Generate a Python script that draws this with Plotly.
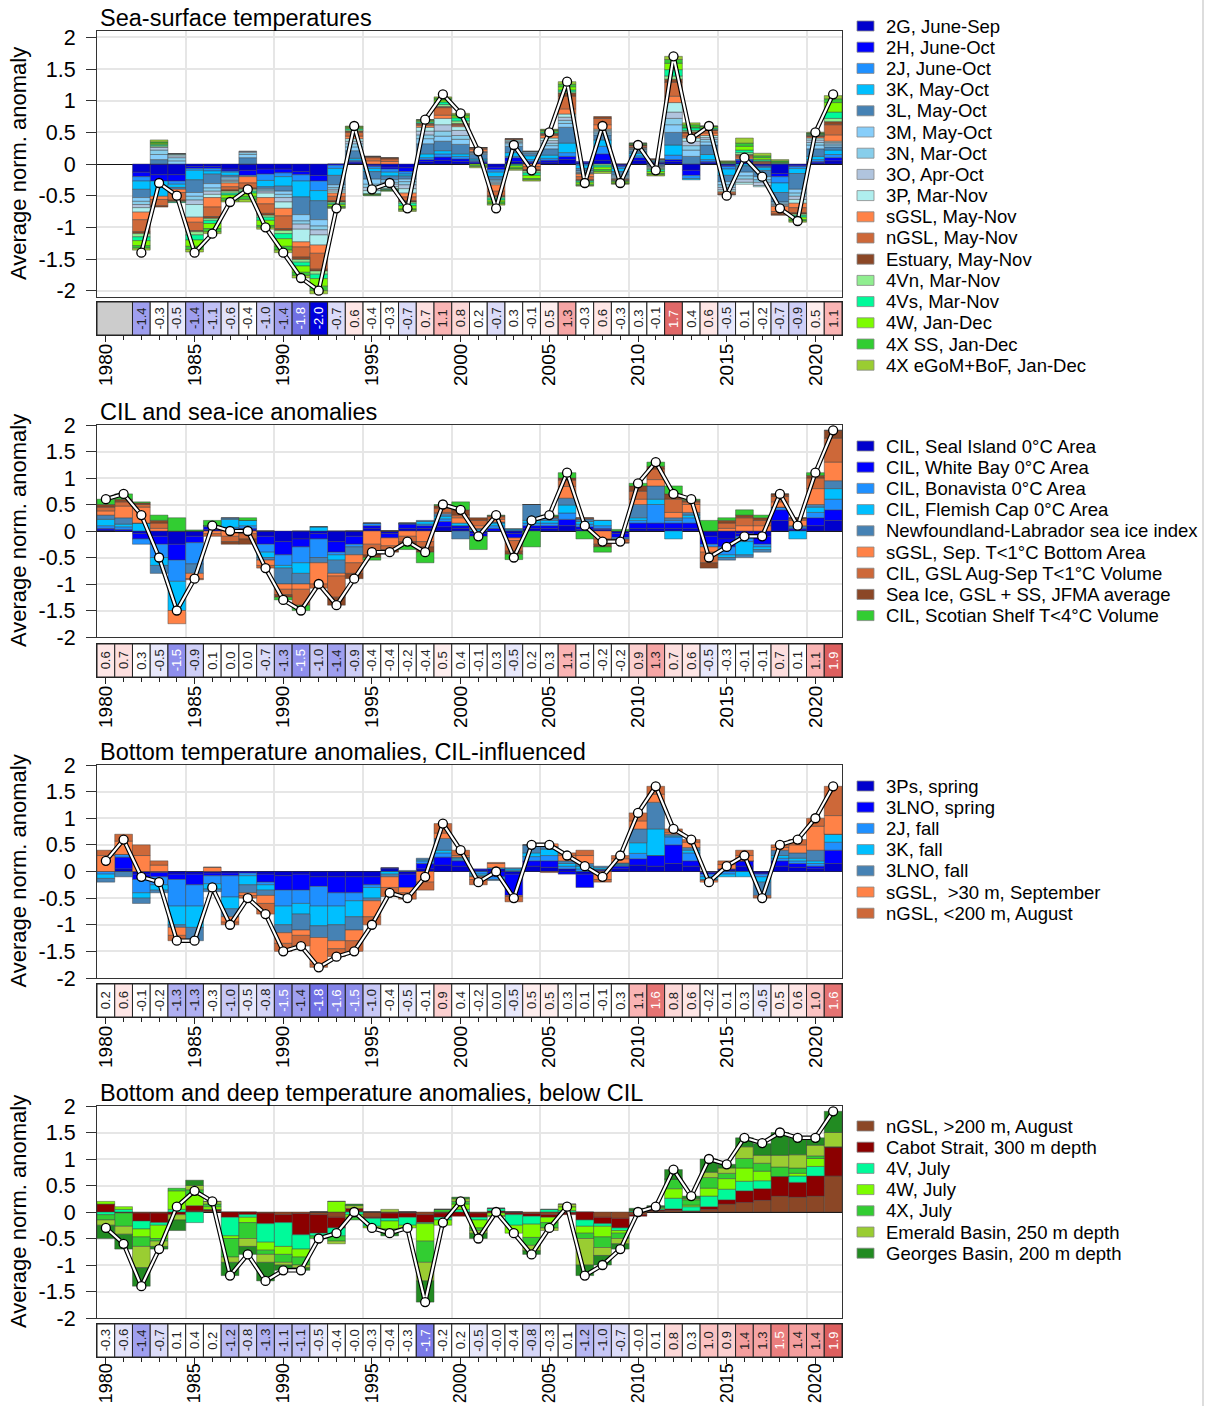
import plotly.graph_objects as go

W, H = 1208, 1406
FONT = "Liberation Sans, Arial, Helvetica, sans-serif"

years = list(range(1980, 2022))
sst_years = list(range(1982, 2022))

# ---------------- Sea-surface temperatures (share of the average, 1982-2021) ----------------
sst_mean = [-1.4, -0.3, -0.5, -1.4, -1.1, -0.6, -0.4, -1.0, -1.4, -1.8,
            -2.0, -0.7, 0.6, -0.4, -0.3, -0.7, 0.7, 1.1, 0.8, 0.2,
            -0.7, 0.3, -0.1, 0.5, 1.3, -0.3, 0.6, -0.3, 0.3, -0.1,
            1.7, 0.4, 0.6, -0.5, 0.1, -0.2, -0.7, -0.9, 0.5, 1.1]
sst_2G = [-.13, -.17, -.17, -.04, -.04, -.08, -.10, -.08, -.08, -.12, -.18, 0, .02, -.02, -.05, -.06, .04, .06, .04, .02,
          -.05, .04, .02, .03, .07, .02, .06, -.02, .06, .02, .04, -.10, .02, -.02, .03, -.02, -.15, -.02, .02, .05]
sst_2H = [-.07, -.10, -.10, -.03, -.03, -.03, -.08, -.08, -.06, -.05, -.09, -.02, .02, -.02, -.03, -.06, .03, .05, .04, .02,
          -.04, .06, .02, .03, .05, .02, .10, -.02, .04, .01, .03, -.08, .02, -.02, .03, -.02, -.05, -.02, .02, .05]
sst_2J = [-.07, 0, -.05, -.03, -.04, -.02, -.02, -.10, -.06, -.10, -.15, -.05, .02, -.03, -.05, -.04, .03, .05, .04, .02,
          -.04, .02, .03, .03, .06, -.02, .12, -.03, .03, .01, .07, -.05, .03, -.04, .02, -.02, -.10, -.03, .03, .05]
sst_3K = [-.13, -.24, -.05, -.15, -.05, -.05, 0, -.10, -.15, -.25, -.16, -.11, .03, -.05, -.06, -.03, .06, .05, .04, .02,
          -.07, .06, .06, .05, .15, -.05, .10, -.05, .04, .02, .16, -.02, .08, -.10, -.03, -.04, -.15, -.08, .05, .07]
sst_3L = [-.13, .07, -.03, -.20, -.15, -.03, .10, -.03, -.08, -.28, -.30, -.15, .12, -.12, -.06, -.05, .16, .15, .15, .07,
          -.05, .10, .04, .10, .25, -.04, .08, -.05, .04, -.02, .20, .12, .15, -.10, -.10, -.10, -.15, -.25, .12, .05]
sst_3M = [-.06, .08, .05, -.06, -.07, -.03, .05, -.02, -.05, -.10, -.10, -.04, .06, -.08, -.04, -.04, .08, .08, .08, .02,
          -.02, .04, .02, .05, .06, -.02, .03, -.02, .02, -.01, .12, .10, .05, -.05, -.06, -.05, -.02, -.06, .06, .03]
sst_3N = [-.05, .07, .05, -.06, -.05, -.02, .03, -.02, -.05, -.05, -.06, -.03, .05, -.05, -.03, -.05, .06, .08, .06, .01,
          -.02, .02, .01, .04, .05, -.01, .02, -.02, .01, -.01, .10, .07, .04, -.04, -.05, -.04, -.02, -.05, .04, .02]
sst_3O = [-.05, .05, .03, -.07, -.05, -.02, .02, -.03, -.07, -.08, -.08, -.03, .04, -.05, -.04, -.06, .06, .10, .08, .01,
          -.02, .02, 0, .04, .05, -.01, .02, -.02, .01, -.02, .10, .07, .03, -.04, -.05, -.05, -.02, -.05, .04, .02]
sst_3P = [-.07, 0, .03, -.20, -.05, -.02, 0, -.07, -.10, -.20, -.16, -.03, .04, -.05, -.03, -.07, .06, .10, .06, .01,
          -.02, .02, 0, .04, .05, -.01, .02, -.01, .01, -.01, .15, .05, .03, -.03, -.03, -.02, -.01, -.06, .03, .02]
sst_sGSL = [-.12, -.05, -.05, -.08, -.15, -.06, -.10, -.10, -.12, -.08, -.13, -.05, .04, .05, .04, -.06, .03, .05, .02, .03,
            -.10, .01, -.04, .04, .08, -.04, .07, -.01, .01, .01, .10, .03, .04, -.02, .03, .01, -.08, -.07, .02, .10]
sst_nGSL = [-.19, -.10, -.12, -.13, -.15, -.05, -.08, -.15, -.20, -.16, -.25, -.07, .06, .05, .04, -.06, .02, .12, .02, .02,
            -.07, .01, -.05, .02, .20, -.05, .10, -.01, .03, .01, .22, .05, .04, -.02, .03, .02, -.04, -.08, .01, .16]
sst_estuary = [-.03, -.02, -.02, -.02, -.03, -.02, -.02, -.03, -.03, -.04, -.03, -.02, .02, .02, .02, -.02, .01, .02, .01, .01,
               -.02, 0, -.02, .01, .05, -.01, .03, 0, 0, 0, .05, .02, .01, -.01, .01, .01, -.02, -.02, .01, .05]
sst_4Vn = [-.05, .02, -.01, -.05, -.03, -.03, -.03, -.03, -.05, -.04, -.05, -.02, .02, 0, -.01, -.02, .01, .03, .04, 0,
           -.02, -.01, -.03, .01, .02, -.01, -.02, -.01, 0, -.02, .05, .02, .01, .01, .03, .01, .01, -.02, .01, .05]
sst_4Vs = [-.06, .02, -.01, -.08, -.05, -.03, -.03, -.05, -.08, -.06, -.07, -.02, .02, -.01, -.01, -.04, .02, .04, .05, 0,
           -.03, -.02, -.04, .02, .03, -.02, -.03, -.01, .01, -.03, .10, .04, .02, .01, .04, .02, .01, -.03, .01, .10]
sst_4W = [-.08, .02, 0, -.10, -.08, -.05, -.05, -.08, -.12, -.10, -.12, -.03, .02, -.01, -.01, -.05, .02, .03, .03, -.02,
          -.03, -.03, -.05, .02, .05, -.03, -.04, -.02, .01, -.03, .10, .01, .02, .01, .06, .03, .01, -.04, .01, .15]
sst_4XSS = [-.04, .02, 0, -.05, -.05, -.04, -.05, -.03, -.06, -.05, -.07, -.02, .01, -.01, -.01, -.02, .01, .03, .02, -.02,
            -.03, -.02, -.02, .01, .04, -.02, -.03, -.01, .01, -.02, .06, .04, .01, .01, .05, .03, .02, -.02, .01, .06]
sst_4XGoM = [-.03, .03, 0, -.04, -.03, -.02, -.04, -.03, -.04, -.04, -.05, -.01, .01, 0, 0, -.02, 0, .02, .02, -.02,
             -.02, -.02, -.02, .01, .04, -.01, -.03, -.01, 0, -.02, .05, .03, 0, .01, .08, .04, .02, -.02, .01, .05]

# ---------------- CIL and sea-ice (1980-2021) ----------------
cil_mean = [0.6, 0.7, 0.3, -0.5, -1.5, -0.9, 0.1, 0.0, 0.0, -0.7,
            -1.3, -1.5, -1.0, -1.4, -0.9, -0.4, -0.4, -0.2, -0.4, 0.5,
            0.4, -0.1, 0.3, -0.5, 0.2, 0.3, 1.1, 0.1, -0.2, -0.2,
            0.9, 1.3, 0.7, 0.6, -0.5, -0.3, -0.1, -0.1, 0.7, 0.1,
            1.1, 1.9]
cil_seal = [.02, 0, -.05, -.10, -.25, -.10, .03, 0, .02, -.10, -.20, -.15, -.05, -.20, -.10, .05, -.05, .05, .05, .08,
            .05, -.05, 0, -.05, .05, .05, .10, .03, .03, -.05, .05, .05, .05, .05, -.10, -.15, -.05, -.10, .20, .02, .10, .20]
cil_white = [.03, .03, -.10, -.15, -.30, -.12, .05, .02, .03, -.15, -.25, -.15, -.10, -.20, -.15, .05, -.08, .08, .05, .10,
             .05, -.05, .05, -.08, .05, .05, .12, .05, .02, -.07, .10, .10, .10, .10, -.15, -.15, -.05, -.15, .20, .03, .15, .20]
cil_bona = [.05, .05, -.10, -.25, -.40, -.40, .02, .05, .05, -.15, -.20, -.30, -.35, -.05, -.05, .05, 0, .02, .03, .05,
            0, 0, .05, .02, .05, .05, .12, .05, .05, -.03, .05, .35, .05, .10, -.05, -.15, -.10, -.05, .05, .03, .10, .20]
cil_flem = [.12, .05, .15, -.15, -.55, 0, 0, .15, .10, -.10, -.05, -.20, .08, -.10, 0, 0, 0, 0, .05, .05,
            .05, .03, .05, .02, .05, .05, .15, .05, .10, 0, .05, .10, -.15, .05, 0, -.05, -.25, -.05, 0, -.15, .10, .20]
nl_ice = [.08, .12, 0, -.15, 0, -.18, 0, .03, 0, -.05, -.30, -.20, -.10, -.25, -.15, 0, 0, 0, .02, .05,
          -.15, .02, .02, 0, .30, .05, .13, .05, 0, 0, .25, .25, .05, .05, 0, -.05, -.05, -.05, 0, .02, .05, .15]
sgsl_area = [.08, .22, .30, .05, -.25, -.10, -.05, -.10, -.05, -.10, -.10, -.10, -.40, -.05, -.15, -.25, -.15, -.10, -.20, .02,
             .10, .05, .05, -.05, 0, 0, .22, 0, -.15, -.02, .10, .12, .10, .15, -.10, .05, .10, .10, .10, .10, .30, .35]
gsl_vol = [.07, .08, .05, .10, 0, -.02, -.05, -.10, -.10, -.05, -.10, -.30, -.08, -.40, -.20, -.20, -.07, -.10, -.10, .08,
           .05, .10, .05, -.20, 0, .02, .12, .02, -.10, -.05, .15, .20, .25, .05, -.20, .10, .15, .10, .10, .03, .20, .45]
gsl_ice = [.05, .05, .03, .05, 0, 0, 0, -.05, -.10, 0, -.05, 0, 0, -.15, -.10, -.05, -.05, -.05, -.10, .05,
           .10, .05, .02, -.06, 0, .01, .04, 0, -.05, -.01, .10, .05, .10, .03, -.10, .05, .05, .05, .05, .02, .05, .15]
ss_vol = [.10, .10, .02, .10, .25, .02, .10, 0, .05, 0, -.05, -.10, 0, 0, 0, -.05, 0, -.10, -.20, .02,
          .15, -.25, .01, -.10, -.30, .02, .10, -.15, -.10, .03, .05, .08, .15, .02, .20, .05, .10, .05, 0, 0, .05, 0]

# ---------------- Bottom temperature, CIL-influenced (1980-2021) ----------------
bot_mean = [0.2, 0.6, -0.1, -0.2, -1.3, -1.3, -0.3, -1.0, -0.5, -0.8,
            -1.5, -1.4, -1.8, -1.6, -1.5, -1.0, -0.4, -0.5, -0.1, 0.9,
            0.4, -0.2, 0.0, -0.5, 0.5, 0.5, 0.3, 0.1, -0.1, 0.3,
            1.1, 1.6, 0.8, 0.6, -0.2, 0.1, 0.3, -0.5, 0.5, 0.6,
            1.0, 1.6]
bot_3Ps = [0, .05, -.05, -.02, -.05, -.05, -.03, -.03, 0, -.05, -.08, -.05, -.10, -.10, -.10, -.10, .05, -.05, .05, .12,
           .10, .03, .05, -.05, .10, .08, .05, -.05, .02, .05, .12, .10, .15, .10, -.02, .03, .10, -.03, .10, .08, .05, .15]
bot_3LNO_sp = [0, .22, -.10, -.08, -.10, -.20, -.05, -.05, -.03, -.15, -.27, -.30, -.18, -.30, -.30, -.15, .02, -.25, .10, .15,
               .10, .02, -.10, -.40, .10, .12, -.05, -.25, .02, .05, .12, .20, .35, .10, -.03, .02, .10, -.02, .10, .07, .05, .25]
bot_2J = [-.05, .05, -.25, -.15, -.50, -.40, -.15, -.40, -.05, -.05, -.30, -.25, -.37, -.25, -.15, -.05, 0, 0, .05, .08,
          .02, -.05, -.05, .02, .08, .10, .05, .05, 0, .02, .10, 0, .15, .15, -.05, -.05, 0, -.05, .05, .05, .05, .15]
bot_3K = [-.08, 0, -.10, -.10, -.35, -.40, -.10, -.22, -.17, -.10, -.35, -.20, -.37, -.35, -.30, -.20, -.05, 0, .02, .05,
          .03, -.03, .02, .03, .07, .12, .05, .05, .03, .02, .20, .50, .02, .05, -.05, -.05, -.10, -.10, .05, .05, .05, .15]
bot_3LNO_fa = [-.07, -.10, -.10, -.05, -.05, -.25, -.05, -.15, -.15, -.10, -.15, -.30, -.22, -.30, -.25, -.05, -.05, .02, .03, .22,
               .02, -.02, -.02, .02, .15, .05, .05, .05, .03, .02, .26, .50, .03, .05, -.02, 0, 0, -.25, .10, .10, .20, 0]
bot_sGSL = [.30, .25, .30, .12, -.15, 0, .08, -.10, -.05, -.15, -.20, -.10, -.50, -.15, -.20, -.30, -.20, -.10, -.20, .10,
            .03, -.05, .08, -.02, 0, .05, .10, .15, -.15, .08, .15, .15, .03, .10, -.03, .08, .10, -.03, .05, .15, .45, .35]
bot_nGSL = [.10, .13, .20, .08, -.10, 0, 0, -.05, -.05, -.20, -.15, -.20, -.06, -.15, -.20, -.15, -.17, -.12, -.15, .18,
            .10, -.10, .02, -.10, 0, -.02, .05, .10, -.05, .06, .15, .15, .07, .05, 0, .07, .10, -.02, .05, .10, .15, .55]

# ---------------- Bottom and deep temperature, below CIL (1980-2021) ----------------
deep_mean = [-0.3, -0.6, -1.4, -0.7, 0.1, 0.4, 0.2, -1.2, -0.8, -1.3,
             -1.1, -1.1, -0.5, -0.4, -0.0, -0.3, -0.4, -0.3, -1.7, -0.2,
             0.2, -0.5, -0.0, -0.4, -0.8, -0.3, 0.1, -1.2, -1.0, -0.7,
             -0.0, 0.1, 0.8, 0.3, 1.0, 0.9, 1.4, 1.3, 1.5, 1.4,
             1.4, 1.9]
deep_nGSL = [0, -.02, -.02, -.02, 0, .02, .02, 0, 0, -.02, -.05, -.03, -.05, -.10, .02, -.10, -.02, -.02, -.05, -.02,
             0, -.02, -.02, -.02, -.03, -.05, -.02, 0, -.10, -.12, -.05, .02, .03, .02, .05, .15, .18, .22, .30, .28, .30, .68]
deep_cabot = [.15, 0, -.15, -.18, -.05, .10, .03, -.10, -.05, -.20, -.15, -.40, -.35, -.20, .05, -.02, -.10, -.08, -.15, -.08,
              -.08, -.08, .02, -.03, -.05, -.05, -.03, -.15, -.12, -.18, -.03, .02, .03, 0, .05, .08, .22, .22, .37, .28, .38, .55]
deep_4V = [-.05, .05, -.15, -.05, .05, -.20, 0, -.35, -.05, -.35, -.45, -.27, -.05, -.15, -.05, -.15, -.05, -.15, -.02, -.05,
           .05, -.05, .05, -.20, -.15, .05, .03, -.12, -.05, -.05, .02, .02, .20, .08, .20, .20, .18, .15, 0, .12, .18, 0]
deep_4W = [.05, .05, -.15, -.25, .35, .20, .05, -.05, -.10, -.15, -.15, -.15, 0, .20, -.05, -.03, -.15, -.05, -.33, -.10,
           .10, -.15, -.05, -.15, -.25, -.10, .07, -.13, -.20, -.05, .02, .02, .18, .03, .15, .20, .25, .18, 0, .05, .15, 0]
deep_4X = [-.10, -.25, -.18, -.05, .05, .10, .05, -.35, -.30, -.08, -.15, -.15, -.05, -.10, -.05, 0, -.05, 0, -.40, .05,
           .05, -.05, 0, 0, -.15, -.10, 0, -.10, -.20, -.10, 0, .02, .18, .10, .20, .10, .18, .15, .18, .10, .05, 0]
deep_emerald = [-.10, -.15, -.40, -.10, -.10, .08, .05, -.10, -.15, -.15, -.05, -.05, 0, -.05, .05, 0, .05, 0, -.35, 0,
                .05, -.05, -.02, 0, -.10, -.05, .05, -.50, -.15, -.10, 0, 0, 0, .02, .10, .10, .22, .15, .22, .25, .20, .27]
deep_georges = [-.25, -.28, -.35, -.05, -.20, .10, 0, -.25, -.15, -.35, -.10, -.05, 0, 0, .03, 0, -.08, 0, -.40, 0,
                .03, -.10, 0, 0, -.07, 0, 0, -.20, -.18, -.10, .03, .02, .18, .05, .25, .07, .17, .22, .43, .32, .14, .40]

panels = [
    dict(title="Sea-surface temperatures", x=sst_years, mean=sst_mean, missing=True,
         plot=(31, 297), table=(302, 335), yr=2.1, leg_y=26, lab_size=19, lab_off=-6,
         series=[("2G, June-Sep", "#0000CD", sst_2G), ("2H, June-Oct", "#0000FF", sst_2H),
                 ("2J, June-Oct", "#1E90FF", sst_2J), ("3K, May-Oct", "#00BFFF", sst_3K),
                 ("3L, May-Oct", "#4682B4", sst_3L), ("3M, May-Oct", "#87CEFA", sst_3M),
                 ("3N, Mar-Oct", "#87CEEB", sst_3N), ("3O, Apr-Oct", "#B0C4DE", sst_3O),
                 ("3P, Mar-Nov", "#AFEEEE", sst_3P), ("sGSL, May-Nov", "#FF8247", sst_sGSL),
                 ("nGSL, May-Nov", "#CD6839", sst_nGSL), ("Estuary, May-Nov", "#8B4726", sst_estuary),
                 ("4Vn, Mar-Nov", "#90EE90", sst_4Vn), ("4Vs, Mar-Nov", "#00FA9A", sst_4Vs),
                 ("4W, Jan-Dec", "#7CFC00", sst_4W), ("4X SS, Jan-Dec", "#32CD32", sst_4XSS),
                 ("4X eGoM+BoF, Jan-Dec", "#9ACD32", sst_4XGoM)]),
    dict(title="CIL and sea-ice anomalies", x=years, mean=cil_mean, missing=False,
         plot=(425, 637), table=(644, 677), yr=2.0, leg_y=446, lab_size=19, lab_off=-6,
         series=[("CIL, Seal Island 0°C Area", "#0000CD", cil_seal),
                 ("CIL, White Bay 0°C Area", "#0000FF", cil_white),
                 ("CIL, Bonavista 0°C Area", "#1E90FF", cil_bona),
                 ("CIL, Flemish Cap 0°C Area", "#00BFFF", cil_flem),
                 ("Newfoundland-Labrador sea ice index", "#4682B4", nl_ice),
                 ("sGSL, Sep. T<1°C Bottom Area", "#FF8247", sgsl_area),
                 ("CIL, GSL Aug-Sep T<1°C Volume", "#CD6839", gsl_vol),
                 ("Sea Ice, GSL + SS, JFMA average", "#8B4726", gsl_ice),
                 ("CIL, Scotian Shelf T<4°C Volume", "#32CD32", ss_vol)]),
    dict(title="Bottom temperature anomalies, CIL-influenced", x=years, mean=bot_mean, missing=False,
         plot=(765, 978), table=(984, 1017), yr=2.0, leg_y=786, lab_size=19, lab_off=-6,
         series=[("3Ps, spring", "#0000CD", bot_3Ps), ("3LNO, spring", "#0000FF", bot_3LNO_sp),
                 ("2J, fall", "#1E90FF", bot_2J), ("3K, fall", "#00BFFF", bot_3K),
                 ("3LNO, fall", "#4682B4", bot_3LNO_fa), ("sGSL,  >30 m, September", "#FF8247", bot_sGSL),
                 ("nGSL, <200 m, August", "#CD6839", bot_nGSL)]),
    dict(title="Bottom and deep temperature anomalies, below CIL", x=years, mean=deep_mean, missing=False,
         plot=(1106, 1318), table=(1324, 1357), yr=2.0, leg_y=1126, lab_size=18, lab_off=-8,
         series=[("nGSL, >200 m, August", "#8B4726", deep_nGSL),
                 ("Cabot Strait, 300 m depth", "#8B0000", deep_cabot),
                 ("4V, July", "#00FA9A", deep_4V), ("4W, July", "#7CFC00", deep_4W),
                 ("4X, July", "#32CD32", deep_4X), ("Emerald Basin, 250 m depth", "#9ACD32", deep_emerald),
                 ("Georges Basin, 200 m depth", "#228B22", deep_georges)]),
]

NEG_STOPS = [(0.45, (255, 255, 255)), (0.5, (232, 232, 251)), (0.8, (214, 214, 248)), (1.0, (200, 200, 246)),
             (1.3, (176, 176, 242)), (1.5, (142, 142, 236)), (1.8, (112, 112, 228)), (2.0, (0, 0, 221))]
POS_STOPS = [(0.45, (255, 255, 255)), (0.5, (254, 238, 238)), (0.9, (252, 208, 208)), (1.1, (250, 180, 180)),
             (1.4, (244, 158, 158)), (1.5, (234, 126, 126)), (1.7, (224, 104, 104)), (2.0, (220, 90, 90))]


def cell_colour(v):
    stops = NEG_STOPS if v < 0 else POS_STOPS
    a = abs(v)
    if a <= stops[0][0]:
        return "rgb(255,255,255)"
    for (a0, c0), (a1, c1) in zip(stops, stops[1:]):
        if a <= a1:
            t = (a - a0) / (a1 - a0)
            return "rgb(%d,%d,%d)" % tuple(round(c0[k] + t * (c1[k] - c0[k])) for k in range(3))
    return "rgb(%d,%d,%d)" % stops[-1][1]


def py(y):
    return 1 - y / H


X_DOM = [97 / W, 842 / W]
X_RANGE = [1979.5, 2021.5]
GRID = "#e6e6e6"

fig = go.Figure()
layout = {}
shapes = []
annotations = []

for i, p in enumerate(panels):
    n_plot, n_tab = 2 * i + 1, 2 * i + 2
    sp = "" if n_plot == 1 else str(n_plot)
    st = str(n_tab)
    xp, yp = "x" + sp, "y" + sp
    xt, yt = "x" + st, "y" + st

    # stacked components
    for name, colour, vals in p["series"]:
        fig.add_trace(go.Bar(x=p["x"], y=vals, width=1, name=name, showlegend=False,
                             marker=dict(color=colour, line=dict(color="rgba(60,60,60,0.75)", width=0.6)),
                             xaxis=xp, yaxis=yp))
    # average line
    fig.add_trace(go.Scatter(x=p["x"], y=p["mean"], mode="lines", showlegend=False,
                             line=dict(color="black", width=4.5), xaxis=xp, yaxis=yp))
    fig.add_trace(go.Scatter(x=p["x"], y=p["mean"], mode="lines+markers", showlegend=False,
                             line=dict(color="white", width=2.2),
                             marker=dict(symbol="circle", size=9, color="white",
                                         line=dict(color="black", width=1.3)),
                             xaxis=xp, yaxis=yp))

    # table row of yearly averages
    fig.add_trace(go.Bar(x=p["x"], y=[1] * len(p["x"]), width=1, showlegend=False,
                         marker=dict(color=[cell_colour(v) for v in p["mean"]],
                                     line=dict(color="#222", width=1)),
                         xaxis=xt, yaxis=yt))
    if p["missing"]:
        fig.add_trace(go.Bar(x=[1980.5], y=[1], width=[2], showlegend=False,
                             marker=dict(color="#cccccc", line=dict(color="#222", width=1)),
                             xaxis=xt, yaxis=yt))
    for yr, v in zip(p["x"], p["mean"]):
        annotations.append(dict(x=yr, y=0.5, xref=xt, yref=yt, text=f"{v:.1f}", showarrow=False,
                                textangle=-90, font=dict(size=13, family=FONT,
                                                         color="white" if abs(v) >= 1.5 else "#222")))

    top, bot = p["plot"]
    ttop, tbot = p["table"]
    r = p["yr"]
    ticks = [-2, -1.5, -1, -0.5, 0, 0.5, 1, 1.5, 2]
    layout["xaxis" + sp] = dict(domain=X_DOM, range=X_RANGE, anchor=yp, showline=True, mirror=True,
                                linecolor="#333", linewidth=1.2, ticks="", showticklabels=False,
                                tickmode="array", tickvals=[1984.5 + 5 * k for k in range(8)],
                                showgrid=True, gridcolor=GRID, gridwidth=1.5, zeroline=False)
    layout["yaxis" + sp] = dict(domain=[py(bot), py(top)], range=[-r, r], anchor=xp, showline=True,
                                mirror=True, linecolor="#333", linewidth=1.2, tickmode="array",
                                tickvals=ticks, ticktext=[f"{t:g}" for t in ticks], ticks="outside",
                                ticklen=10, tickwidth=1.2, tickcolor="#333", ticklabelstandoff=6,
                                tickfont=dict(size=21.5, family=FONT, color="black"),
                                showgrid=True, gridcolor=GRID, gridwidth=1.5,
                                zeroline=True, zerolinecolor="#111", zerolinewidth=1.3)
    layout["xaxis" + st] = dict(domain=X_DOM, range=X_RANGE, anchor=yt, showline=True, mirror=True,
                                linecolor="#222", linewidth=1.2, tickmode="linear", tick0=1980, dtick=5,
                                ticks="outside", ticklen=6, tickwidth=1.2, tickcolor="#222",
                                ticklabelstandoff=p["lab_off"],
                                tickangle=-90, tickfont=dict(size=p["lab_size"], family=FONT, color="black"),
                                minor=dict(ticks="outside", ticklen=4, tickwidth=1, tickcolor="#222",
                                           dtick=1, tick0=1980, showgrid=False),
                                showgrid=False, zeroline=False)
    layout["yaxis" + st] = dict(domain=[py(tbot), py(ttop)], range=[0, 1], anchor=xt, showline=True,
                                mirror=True, linecolor="#222", linewidth=1.2, ticks="",
                                showticklabels=False, showgrid=False, zeroline=False)

    # panel title and y-axis title
    annotations.append(dict(x=98 / W, y=py(top - 13), xref="paper", yref="paper", text=p["title"],
                            showarrow=False, xanchor="left", yanchor="middle",
                            font=dict(size=23.5, family=FONT, color="black")))
    annotations.append(dict(x=18 / W, y=py((top + bot) / 2), xref="paper", yref="paper",
                            text="Average norm. anomaly", showarrow=False, textangle=-90,
                            xanchor="center", yanchor="middle",
                            font=dict(size=22, family=FONT, color="black")))

    # key to the stacked components
    for j, (name, colour, _) in enumerate(p["series"]):
        cy = p["leg_y"] + j * 21.2
        shapes.append(dict(type="rect", xref="paper", yref="paper", x0=857 / W, x1=874 / W,
                           y0=py(cy + 5), y1=py(cy - 5), fillcolor=colour,
                           line=dict(color="#888", width=0.8)))
        annotations.append(dict(x=884 / W, y=py(cy), xref="paper", yref="paper", text=name,
                                showarrow=False, xanchor="left", yanchor="middle",
                                font=dict(size=18.5, family=FONT, color="black")))

shapes.append(dict(type="line", xref="paper", yref="paper", x0=1203 / W, x1=1203 / W, y0=0, y1=1,
                   line=dict(color="#dddddd", width=2)))

fig.update_layout(width=W, height=H, margin=dict(l=0, r=0, t=0, b=0, autoexpand=False),
                  barmode="relative", paper_bgcolor="white", plot_bgcolor="white",
                  font=dict(family=FONT, color="black"),
                  shapes=shapes, annotations=annotations, showlegend=False, **layout)

# page without default body margins so the figure fills the window exactly
fig.write_html("out.html",
               post_script="document.documentElement.style.margin='0';"
                           "document.body.style.margin='0';"
                           "document.body.style.overflow='hidden';")
